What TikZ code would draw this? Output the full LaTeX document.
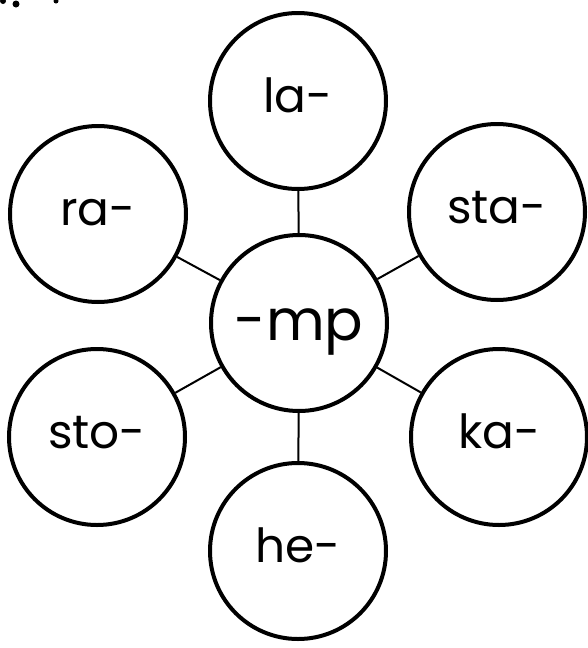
\documentclass[tikz,border=0pt]{standalone}
\usepackage{fontspec}
\setmainfont{Poppins}
\begin{document}
\begin{tikzpicture}[x=1pt,y=-1pt,
  bub/.style={circle,draw=black,line width=4pt,minimum size=176pt,inner sep=0pt,
    text height=30pt,text depth=8pt,font=\fontsize{47}{50}\selectfont},
  link/.style={draw=black,line width=2pt}]
\useasboundingbox (0,0) rectangle (587,648);
\fill (3,1) circle (3);
\fill (16,4) circle (3.5);
\fill (56,1) circle (2.5);
\node[bub,text height=40pt,text depth=6pt,font=\fontsize{57}{60}\selectfont] (c) at (299,323) {-mp};
\node[bub] (la) at (298,101) {la-};
\node[bub] (ra) at (98,214) {ra-};
\node[bub] (sta) at (497,212) {sta-};
\node[bub] (sto) at (97,437) {sto-};
\node[bub] (ka) at (499,437) {ka-};
\node[bub] (he) at (298,551) {he-};
\foreach \n in {la,ra,sta,sto,ka,he}{\draw[link] (c) -- (\n);}
\end{tikzpicture}
\end{document}
